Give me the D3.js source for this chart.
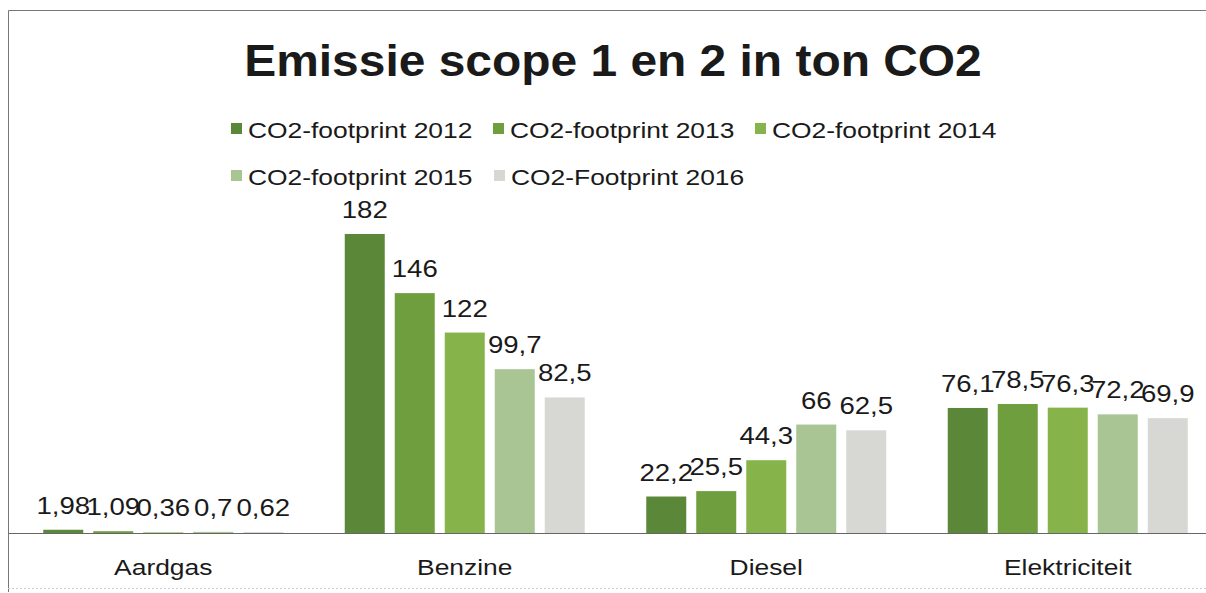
<!DOCTYPE html>
<html>
<head>
<meta charset="utf-8">
<script src="https://cdn.jsdelivr.net/npm/d3@7"></script>
<style>
    body { margin: 0; background: #fff; }
    svg { display: block; font-family: Arial, "Liberation Sans", sans-serif; }
</style>
</head>
<body>
<script>
//data
var categories = ["Aardgas", "Benzine", "Diesel", "Elektriciteit"];
var seriesNames = ["CO2-footprint 2012", "CO2-footprint 2013", "CO2-footprint 2014", "CO2-footprint 2015", "CO2-Footprint 2016"];
var values2012 = [1.98, 182, 22.2, 76.1];
var values2013 = [1.09, 146, 25.5, 78.5];
var values2014 = [0.36, 122, 44.3, 76.3];
var values2015 = [0.7, 99.7, 66, 72.2];
var values2016 = [0.62, 82.5, 62.5, 69.9];
var seriesColors = ["#5a8838", "#6f9e3e", "#86b44a", "#a9c593", "#d7d8d4"];

var allValues = [values2012, values2013, values2014, values2015, values2016];

var width = 1206, height = 593;
var stretch = 1.2; //the scanned text is wider than the font

var svg = d3.select("body")
    .append("svg")
    .attr("width", width)
    .attr("height", height);

//frame of the chart area (right side runs off the picture)
svg.append("path")
    .attr("d", "M8.5,592 L8.5,10.5 L1206,10.5")
    .attr("fill", "none")
    .attr("stroke", "#777")
    .attr("stroke-width", 1);
svg.append("line")
    .attr("x1", 8).attr("x2", 1206)
    .attr("y1", 588.5).attr("y2", 588.5)
    .attr("stroke", "#ccc")
    .attr("stroke-dasharray", "2,2");

//title
svg.append("text")
    .attr("transform", "translate(613,76) scale(1.065,1)")
    .attr("text-anchor", "middle")
    .style("font-size", "45px")
    .style("font-weight", "bold")
    .style("fill", "#1a1a1a")
    .text("Emissie scope 1 en 2 in ton CO2");

//legend
var legendPos = [[231, 138], [493, 138], [755, 138], [231, 185], [494, 185]];
var legend = svg.selectAll(".legend")
    .data(seriesNames)
    .enter()
    .append("g")
    .attr("class", "legend")
    .attr("transform", function(d, i){
        return "translate(" + legendPos[i][0] + "," + legendPos[i][1] + ")";
    });
legend.append("rect")
    .attr("x", 0)
    .attr("y", -15)
    .attr("width", 11)
    .attr("height", 11)
    .attr("fill", function(d, i){ return seriesColors[i]; });
legend.append("text")
    .attr("transform", "translate(17,0) scale(" + stretch + ",1)")
    .style("font-size", "22px")
    .style("fill", "#1a1a1a")
    .text(function(d){ return d; });

//scales
var x0 = d3.scaleBand()
    .domain(categories)
    .range([12.5, 1218.5]);
var x1 = d3.scaleBand()
    .domain(d3.range(seriesNames.length))
    .range([0, x0.bandwidth()])
    .paddingInner(0.2)
    .paddingOuter(0.615);
var y = d3.scaleLinear()
    .domain([0, 200])
    .range([533, 204.4]);

//bars
var groups = svg.selectAll(".group")
    .data(categories)
    .enter()
    .append("g")
    .attr("class", "group")
    .attr("transform", function(d){ return "translate(" + x0(d) + ",0)"; });

var fmt = function(v){ return String(v).replace(".", ","); };

groups.selectAll(".bar")
    .data(function(d, ci){
        return allValues.map(function(s, si){ return {s: si, v: s[ci]}; });
    })
    .enter()
    .append("rect")
    .attr("class", "bar")
    .attr("x", function(d){ return x1(d.s); })
    .attr("width", x1.bandwidth())
    .attr("y", function(d){ return y(d.v); })
    .attr("height", function(d){ return y(0) - y(d.v); })
    .attr("fill", function(d){ return seriesColors[d.s]; });

groups.selectAll(".numbers")
    .data(function(d, ci){
        return allValues.map(function(s, si){ return {s: si, v: s[ci]}; });
    })
    .enter()
    .append("text")
    .attr("class", "numbers")
    .attr("text-anchor", "middle")
    .attr("transform", function(d){
        return "translate(" + (x1(d.s) + x1.bandwidth() / 2) + "," + (y(d.v) - 16) + ") scale(" + stretch + ",1)";
    })
    .style("font-size", "23px")
    .style("fill", "#1a1a1a")
    .text(function(d){ return fmt(d.v); });

//category axis
var xAxis = svg.append("g")
    .attr("transform", "translate(0,533)")
    .call(d3.axisBottom(x0).tickSize(0).tickPadding(26));
xAxis.select(".domain")
    .attr("stroke", "#666")
    .attr("d", "M9,0.5H1206");
xAxis.selectAll("text")
    .attr("transform", "scale(" + stretch + ",1)")
    .style("font-size", "22px")
    .style("font-family", "Arial, 'Liberation Sans', sans-serif")
    .style("fill", "#1a1a1a");
</script>
</body>
</html>
